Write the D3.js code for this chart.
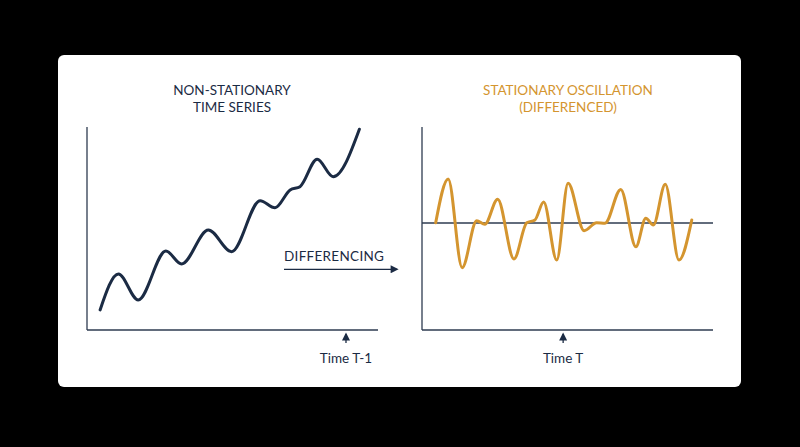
<!DOCTYPE html>
<html lang="en">
<head>
<meta charset="utf-8">
<title>Differencing</title>
<script src="https://cdn.jsdelivr.net/npm/d3@7"></script>
<style>
html, body { margin: 0; padding: 0; background: #000; }
svg { display: block; }
text { font-family: Lato, "Open Sans", sans-serif; }
</style>
</head>
<body>
<svg width="800" height="447"></svg>
<script>
// non-stationary series (time 0-100, level 0-100)
var trendX = [4.5, 10.8, 17.6, 27.1, 32.5, 41.7, 49.7, 59.5, 64.6, 69.8, 73.2, 79.1, 84.6, 93.6];
var trendY = [9.9, 27.6, 14.8, 38.9, 32.5, 49.3, 38.6, 63.7, 60.2, 69.0, 70.6, 84.1, 75.5, 98.9];

// differenced series, oscillates round zero
var diffX = [4.7, 9.0, 13.8, 18.8, 21.6, 26.0, 31.6, 36.0, 38.8, 41.8, 46.3, 50.2, 55.7, 60.0, 62.9, 68.3, 73.5, 76.9, 79.5, 83.6, 88.3, 92.7];
var diffY = [0.1, 20.6, -20.9, 1.1, -0.6, 11.1, -16.8, 0.1, 1.4, 9.8, -17.3, 18.6, -3.6, 0.1, -0.1, 15.7, -11.1, 2.2, -0.9, 18.1, -17.3, 1.4];

var titles = [["NON-STATIONARY", "TIME SERIES"], ["STATIONARY OSCILLATION", "(DIFFERENCED)"]];
var timeLabels = ["Time T-1", "Time T"];
var timeMarks = [89, 48.5];
var arrowLabel = "DIFFERENCING";

var navy = "#1b2b44", gold = "#d4952f", axisCol = "#2e3b50";

var svg = d3.select("svg");

svg.append("rect")
  .attr("x", 58).attr("y", 55)
  .attr("width", 683).attr("height", 332)
  .attr("rx", 6)
  .attr("fill", "#fff");

var defs = svg.append("defs");
defs.append("marker")
  .attr("id", "head")
  .attr("viewBox", "0 0 10 10")
  .attr("refX", 8).attr("refY", 5)
  .attr("markerWidth", 9).attr("markerHeight", 8)
  .attr("markerUnits", "userSpaceOnUse")
  .attr("orient", "auto")
  .append("path")
  .attr("d", "M0,0L10,5L0,10Z")
  .attr("fill", navy);

// left panel
var x1 = d3.scaleLinear().domain([0, 100]).range([87, 378]);
var y1 = d3.scaleLinear().domain([0, 100]).range([330, 127]);

// right panel
var x2 = d3.scaleLinear().domain([0, 100]).range([422, 713]);
var y2 = d3.scaleLinear().domain([-50, 50]).range([330, 116]);

function axes(g, x, y, yTop, yBot) {
  g.append("line")
    .attr("x1", x(0)).attr("x2", x(0))
    .attr("y1", y(yTop)).attr("y2", y(yBot))
    .attr("stroke", axisCol).attr("stroke-width", 1.3);
  g.append("line")
    .attr("x1", x(0)).attr("x2", x(100))
    .attr("y1", y(yBot)).attr("y2", y(yBot))
    .attr("stroke", axisCol).attr("stroke-width", 1.3);
}

var g1 = svg.append("g"), g2 = svg.append("g");
axes(g1, x1, y1, 100, 0);
axes(g2, x2, y2, 44.9, -50);

// zero line
g2.append("line")
  .attr("x1", x2(0)).attr("x2", x2(100))
  .attr("y1", y2(0)).attr("y2", y2(0))
  .attr("stroke", axisCol).attr("stroke-width", 1.3);

var line1 = d3.line()
  .x(function(d, i) { return x1(trendX[i]); })
  .y(function(d) { return y1(d); })
  .curve(d3.curveMonotoneX);

g1.append("path")
  .attr("d", line1(trendY))
  .attr("fill", "none")
  .attr("stroke", navy)
  .attr("stroke-width", 3)
  .attr("stroke-linecap", "round");

var line2 = d3.line()
  .x(function(d, i) { return x2(diffX[i]); })
  .y(function(d) { return y2(d); })
  .curve(d3.curveMonotoneX);

g2.append("path")
  .attr("d", line2(diffY))
  .attr("fill", "none")
  .attr("stroke", gold)
  .attr("stroke-width", 3)
  .attr("stroke-linecap", "round");

// titles
[[g1, x1, navy], [g2, x2, gold]].forEach(function(p, k) {
  var t = p[0].append("text")
    .attr("text-anchor", "middle")
    .attr("font-size", 13.5)
    .attr("fill", p[2]);
  var cx = k == 0 ? 232 : 568;
  titles[k].forEach(function(s, j) {
    t.append("tspan").attr("x", cx).attr("y", 95 + j * 16.7).text(s);
  });
});

// time markers
[[g1, x1], [g2, x2]].forEach(function(p, k) {
  var cx = p[1](timeMarks[k]);
  p[0].append("line")
    .attr("x1", cx).attr("x2", cx)
    .attr("y1", 343).attr("y2", 334)
    .attr("stroke", navy).attr("stroke-width", 1.3)
    .attr("marker-end", "url(#head)");
  p[0].append("text")
    .attr("x", cx).attr("y", 362.5)
    .attr("text-anchor", "middle")
    .attr("font-size", 13.5)
    .attr("fill", navy)
    .text(timeLabels[k]);
});

// differencing arrow
svg.append("text")
  .attr("x", 284).attr("y", 261)
  .attr("font-size", 13.5)
  .attr("letter-spacing", 0.3)
  .attr("fill", navy)
  .text(arrowLabel);
svg.append("line")
  .attr("x1", 284).attr("x2", 397)
  .attr("y1", 269.3).attr("y2", 269.3)
  .attr("stroke", navy).attr("stroke-width", 1.3)
  .attr("marker-end", "url(#head)");
</script>
</body>
</html>
